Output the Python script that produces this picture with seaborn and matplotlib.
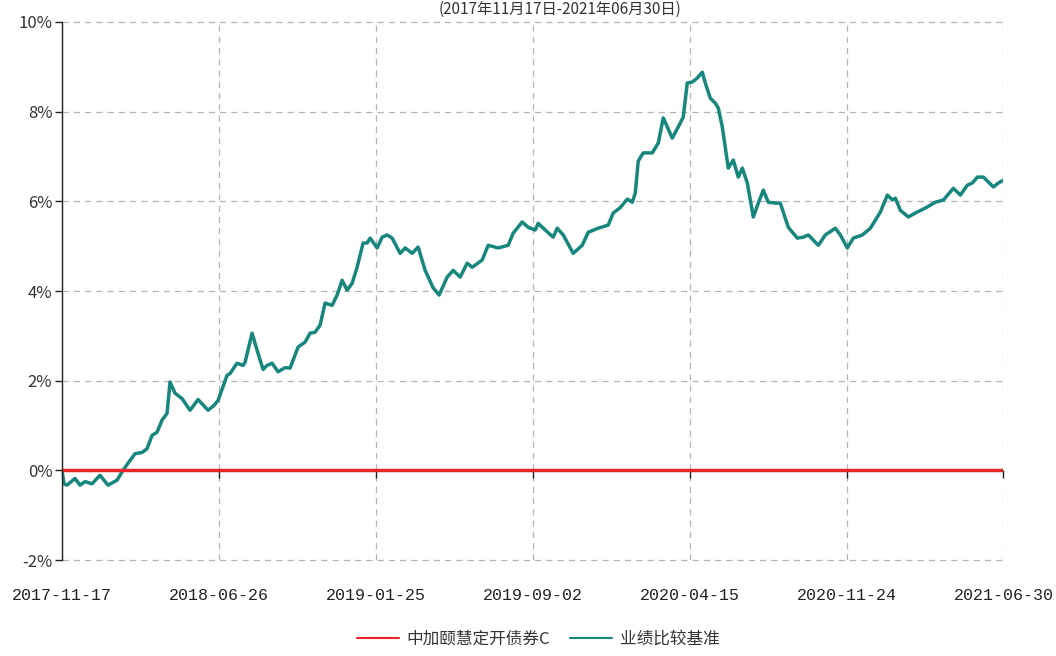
import numpy as np
import pandas as pd
import matplotlib
matplotlib.use("Agg")
import matplotlib.pyplot as plt
from matplotlib.ticker import FuncFormatter
from matplotlib.lines import Line2D
import seaborn as sns

# trading-day index (0 = 2017-11-17, 941 = 2021-06-30) and benchmark return in %
day = [0, 2, 5, 13, 18, 23, 30, 38, 46, 55,
       61, 66, 73, 80, 85, 90, 95, 100, 105, 108,
       113, 120, 128, 136, 146, 152, 156, 165, 168, 175,
       181, 183, 190, 195, 201, 205, 210, 216, 223, 228,
       236, 243, 248, 253, 258, 263, 270, 275, 280, 285,
       290, 295, 301, 305, 308, 315, 320, 325, 330, 338,
       343, 350, 356, 363, 371, 377, 385, 391, 398, 405,
       410, 420, 426, 436, 446, 451, 460, 466, 473, 476,
       483, 491, 495, 501, 511, 520, 526, 536, 546, 551,
       558, 565, 570, 573, 576, 581, 590, 596, 601, 610,
       616, 621, 625, 630, 635, 640, 643, 648, 653, 656,
       660, 666, 671, 676, 680, 685, 691, 696, 701, 706,
       713, 718, 726, 735, 741, 746, 756, 763, 773, 778,
       785, 791, 800, 808, 818, 825, 830, 833, 838, 846,
       853, 863, 873, 881, 891, 898, 905, 910, 915, 921,
       926, 931, 936, 941]
bench = [0.00, -0.30, -0.33, -0.18, -0.33, -0.25, -0.30, -0.11, -0.33, -0.22,
         0.00, 0.16, 0.37, 0.40, 0.48, 0.78, 0.85, 1.12, 1.27, 1.97,
         1.72, 1.60, 1.34, 1.58, 1.34, 1.45, 1.56, 2.12, 2.16, 2.39,
         2.34, 2.41, 3.06, 2.68, 2.25, 2.34, 2.39, 2.20, 2.29, 2.28,
         2.75, 2.86, 3.06, 3.08, 3.24, 3.73, 3.68, 3.91, 4.24, 4.02,
         4.17, 4.53, 5.07, 5.07, 5.18, 4.96, 5.20, 5.25, 5.18, 4.84,
         4.96, 4.84, 4.98, 4.46, 4.07, 3.91, 4.31, 4.46, 4.31, 4.62,
         4.53, 4.69, 5.02, 4.96, 5.02, 5.29, 5.54, 5.42, 5.36, 5.51,
         5.36, 5.20, 5.40, 5.25, 4.84, 5.02, 5.31, 5.40, 5.47, 5.74,
         5.86, 6.05, 5.98, 6.18, 6.90, 7.08, 7.08, 7.30, 7.86, 7.41,
         7.66, 7.88, 8.64, 8.66, 8.75, 8.88, 8.64, 8.30, 8.19, 8.08,
         7.66, 6.74, 6.92, 6.54, 6.74, 6.41, 5.65, 5.96, 6.25, 5.98,
         5.96, 5.96, 5.42, 5.18, 5.20, 5.25, 5.02, 5.25, 5.40, 5.25,
         4.96, 5.18, 5.25, 5.40, 5.76, 6.14, 6.03, 6.07, 5.80, 5.65,
         5.74, 5.85, 5.98, 6.03, 6.29, 6.14, 6.36, 6.41, 6.54, 6.54,
         6.43, 6.32, 6.41, 6.47]
fund = [0.0] * len(day)

date_labels = ["2017-11-17", "2018-06-26", "2019-01-25", "2019-09-02",
               "2020-04-15", "2020-11-24", "2021-06-30"]
y_ticks = [-2, 0, 2, 4, 6, 8, 10]
series_names = ["中加颐慧定开债券C", "业绩比较基准"]
colors = ["#e8262a", "#17877d"]

df = pd.DataFrame({"day": day, "bench": bench, "fund": fund})

sns.set_style("white")
plt.rcParams["font.family"] = ["Noto Sans CJK SC", "DejaVu Sans"]

fig = plt.figure(figsize=(10.56, 6.56), dpi=100)
ax = fig.add_axes([0.0587, 0.1463, 0.8915, 0.8202])

sns.lineplot(data=df, x="day", y="bench", ax=ax, color=colors[1], linewidth=2.5, legend=False)
sns.lineplot(data=df, x="day", y="fund", ax=ax, color=colors[0], linewidth=2.5, legend=False)

xt = np.linspace(0, day[-1], len(date_labels))
ax.set_xlim(0, day[-1])
ax.set_ylim(-2, 10)
ax.set_xticks(xt)
ax.set_yticks(y_ticks)
ax.yaxis.set_major_formatter(FuncFormatter(lambda v, p: f"{v:.0f}%"))
ax.set_xlabel("")
ax.set_ylabel("")

ax.grid(True, linestyle=(0, (5, 4)), color="#b4b4b4", linewidth=0.9)
for gl in ax.get_xgridlines() + ax.get_ygridlines():
    gl.set_clip_on(False)
for s in ["top", "right"]:
    ax.spines[s].set_visible(False)
ax.spines["left"].set_color("#222222")
ax.spines["left"].set_linewidth(1.0)
ax.spines["left"].set_zorder(5)
ax.spines["bottom"].set_position(("data", 0))
ax.spines["bottom"].set_visible(False)

ax.tick_params(axis="y", direction="out", length=5, width=1, color="#222222",
               labelsize=12, labelcolor="#333333", pad=2, left=True)
ax.tick_params(axis="x", direction="out", length=6, width=1, color="#222222",
               labelbottom=False, bottom=True)

# date labels along the bottom edge
sec = ax.secondary_xaxis("bottom")
sec.set_xticks(xt)
sec.set_xticklabels(date_labels, fontfamily="Liberation Mono", fontsize=12, color="#222222")
sec.tick_params(length=0, pad=20)
sec.spines["bottom"].set_visible(False)

fig.text(0.53, 0.998, "(2017年11月17日-2021年06月30日)", ha="center", va="top",
         fontsize=11, color="#333333")

handles = [Line2D([], [], color=colors[0], linewidth=1.5),
           Line2D([], [], color=colors[1], linewidth=1.5)]
fig.legend(handles, series_names, loc="center", bbox_to_anchor=(0.51, 0.025), ncol=2,
           frameon=False, fontsize=12, handlelength=2.5, columnspacing=1.2,
           handletextpad=0.5, labelcolor="#333333")

fig.savefig("out.png", dpi=100)
